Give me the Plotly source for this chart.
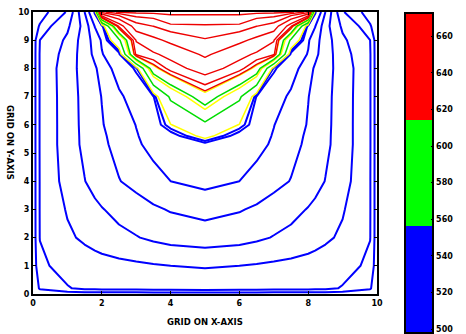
import plotly.graph_objects as go

# grid coordinates (GRID ON X-AXIS / GRID ON Y-AXIS)
x_grid = [0, 0.2, 1, 1.5, 1.8, 2, 2.5, 3, 3.5, 4, 5, 6, 6.5, 7, 7.5, 8, 8.2, 8.5, 9, 9.8, 10]
y_grid = [0, 0.2, 1, 2, 3, 4, 5.3, 5.6, 6, 7, 8, 8.5, 9, 9.5, 10]

# field values, one row per y_grid entry
row_00 = [500, 500, 500, 500, 500, 500, 500, 500, 500, 500, 500, 500, 500, 500, 500, 500, 500, 500, 500, 500, 500]
row_02 = [500, 503.5, 507.5, 509.4, 509.6, 509.8, 510.1, 510.3, 510.6, 510.8, 511.0, 510.8, 510.6, 510.3, 510.1, 509.8, 509.6, 509.4, 507.5, 503.5, 500]
row_10 = [500, 506.5, 510.8, 512.0, 512.6, 513.1, 513.9, 514.6, 515.4, 516.0, 516.6, 516.0, 515.4, 514.6, 513.9, 513.1, 512.6, 512.0, 510.8, 506.5, 500]
row_20 = [500, 508.2, 514.7, 517.3, 518.9, 519.9, 522.0, 523.6, 525.4, 526.8, 528.2, 526.8, 525.4, 523.6, 522.0, 519.9, 518.9, 517.3, 514.7, 508.2, 500]
row_30 = [500, 508.3, 516.7, 520.2, 522.3, 523.6, 526.3, 528.4, 530.8, 532.6, 534.5, 532.6, 530.8, 528.4, 526.3, 523.6, 522.3, 520.2, 516.7, 508.3, 500]
row_40 = [500, 508.3, 519.3, 523.8, 526.6, 528.3, 531.7, 534.5, 537.6, 540.0, 542.4, 540.0, 537.6, 534.5, 531.7, 528.3, 526.6, 523.8, 519.3, 508.3, 500]
row_53 = [500, 508.4, 520.5, 525.5, 528.5, 530.4, 534.5, 539.0, 542.0, 544.5, 547.0, 544.5, 542.0, 539.0, 534.5, 530.4, 528.5, 525.5, 520.5, 508.4, 500]
row_56 = [500, 508.4, 520.5, 525.6, 528.8, 530.8, 535.0, 539.5, 543.0, 545.5, 560.0, 545.5, 543.0, 539.5, 535.0, 530.8, 528.8, 525.6, 520.5, 508.4, 500]
row_60 = [500, 508.4, 520.5, 525.8, 529.5, 531.5, 536.0, 540.2, 544.5, 556.0, 570.0, 556.0, 544.5, 540.2, 536.0, 531.5, 529.5, 525.8, 520.5, 508.4, 500]
row_70 = [500, 508.4, 520.6, 526.0, 530.0, 532.2, 538.5, 544.0, 549.0, 577.0, 610.0, 577.0, 549.0, 544.0, 538.5, 532.2, 530.0, 526.0, 520.6, 508.4, 500]
row_80 = [500, 508.4, 521.0, 526.5, 531.0, 535.0, 544.0, 550.5, 610.0, 627.0, 640.0, 627.0, 610.0, 550.5, 544.0, 535.0, 531.0, 526.5, 521.0, 508.4, 500]
row_85 = [500, 508.4, 519.5, 527.5, 534.0, 539.5, 546.5, 625.0, 631.0, 637.5, 651.0, 637.5, 631.0, 625.0, 546.5, 539.5, 534.0, 527.5, 519.5, 508.4, 500]
row_90 = [500, 508.0, 517.5, 528.0, 535.0, 541.0, 570.0, 634.0, 645.0, 652.0, 660.0, 652.0, 645.0, 634.0, 570.0, 541.0, 535.0, 528.0, 517.5, 508.0, 500]
row_95 = [500, 503.5, 514.5, 527.0, 540.5, 545.0, 625.0, 657.0, 661.0, 666.7, 667.0, 666.7, 661.0, 657.0, 625.0, 545.0, 540.5, 527.0, 514.5, 503.5, 500]
row_100 = [500, 500.5, 508.5, 532.0, 551.0, 666.0, 673.0, 673.0, 673.0, 673.0, 673.0, 673.0, 673.0, 673.0, 673.0, 666.0, 551.0, 532.0, 508.5, 500.5, 500]

# contour levels and the colour each one is drawn in
levels = [503, 508, 516, 524, 532, 540, 549.5, 552.5, 556.5, 574, 592, 598, 614.5,
          616, 622.6, 633.1, 648.6, 660.8, 667.6, 671.8]
level_colors = ["#0000ff"] * 8 + ["#ffff00", "#00dd00", "#ffff00", "#00dd00", "#ffff00"] + ["#ee0000"] * 7
level_widths = [2.0] * 8 + [1.5] * 5 + [1.4] * 7

# colour bar
cbar_min, cbar_max = 497.8, 672.5
cbar_ticks = [500, 520, 540, 560, 580, 600, 620, 640, 660]

z = [row_00, row_02, row_10, row_20, row_30, row_40, row_53, row_56, row_60,
     row_70, row_80, row_85, row_90, row_95, row_100]

fig = go.Figure()
for lev, col, w in zip(levels, level_colors, level_widths):
    fig.add_trace(go.Contour(
        x=x_grid, y=y_grid, z=z,
        autocontour=False,
        contours=dict(start=lev, end=lev, size=1000, coloring="none"),
        line=dict(color=col, width=w, smoothing=0),
        showscale=False, hoverinfo="skip",
    ))

cs = [[0, "#0000ff"], [1/3, "#0000ff"], [1/3, "#00ff00"], [2/3, "#00ff00"],
      [2/3, "#ff0000"], [1, "#ff0000"]]
fig.add_trace(go.Scatter(
    x=[None], y=[None], mode="markers", hoverinfo="skip", showlegend=False,
    marker=dict(color=[cbar_min], cmin=cbar_min, cmax=cbar_max, colorscale=cs,
                showscale=True,
                colorbar=dict(
                    x=(407 - 33) / 346, xanchor="left", xpad=0,
                    y=(294 - 171.5) / 286, yanchor="middle", ypad=0,
                    len=320, lenmode="pixels",
                    thickness=28, thicknessmode="pixels",
                    outlinecolor="black", outlinewidth=2,
                    tickvals=cbar_ticks, ticks="inside", ticklen=3, tickcolor="black",
                    ticklabeloverflow="allow",
                    tickfont=dict(family="DejaVu Sans", size=8, color="black", weight="bold"),
                )),
))

tickfont = dict(family="DejaVu Sans", size=8, color="black", weight="bold")
fig.update_layout(
    width=466, height=334,
    margin=dict(l=33, r=87, t=8, b=40),
    paper_bgcolor="white", plot_bgcolor="white",
    showlegend=False,
    xaxis=dict(range=[0, 10], tickvals=[0, 2, 4, 6, 8, 10], showgrid=False, zeroline=False,
               showline=True, linecolor="black", linewidth=2, mirror="ticks",
               ticks="inside", ticklen=3, tickcolor="black", tickfont=tickfont),
    yaxis=dict(range=[0, 10], dtick=1, showgrid=False, zeroline=False,
               showline=True, linecolor="black", linewidth=2, mirror="ticks",
               ticks="inside", ticklen=3, tickcolor="black", tickfont=tickfont),
    annotations=[
        dict(text="GRID ON X-AXIS", xref="paper", yref="paper", x=0.5, y=(294 - 322) / 286,
             xanchor="center", yanchor="middle", showarrow=False,
             font=dict(family="DejaVu Sans", size=8.5, color="black", weight="bold")),
        dict(text="GRID ON Y-AXIS", xref="paper", yref="paper", x=(10 - 33) / 346,
             y=(294 - 140) / 286, xanchor="center", yanchor="middle", showarrow=False,
             textangle=90,
             font=dict(family="DejaVu Sans", size=8.5, color="black", weight="bold")),
    ],
)

fig.write_html("out.html")
